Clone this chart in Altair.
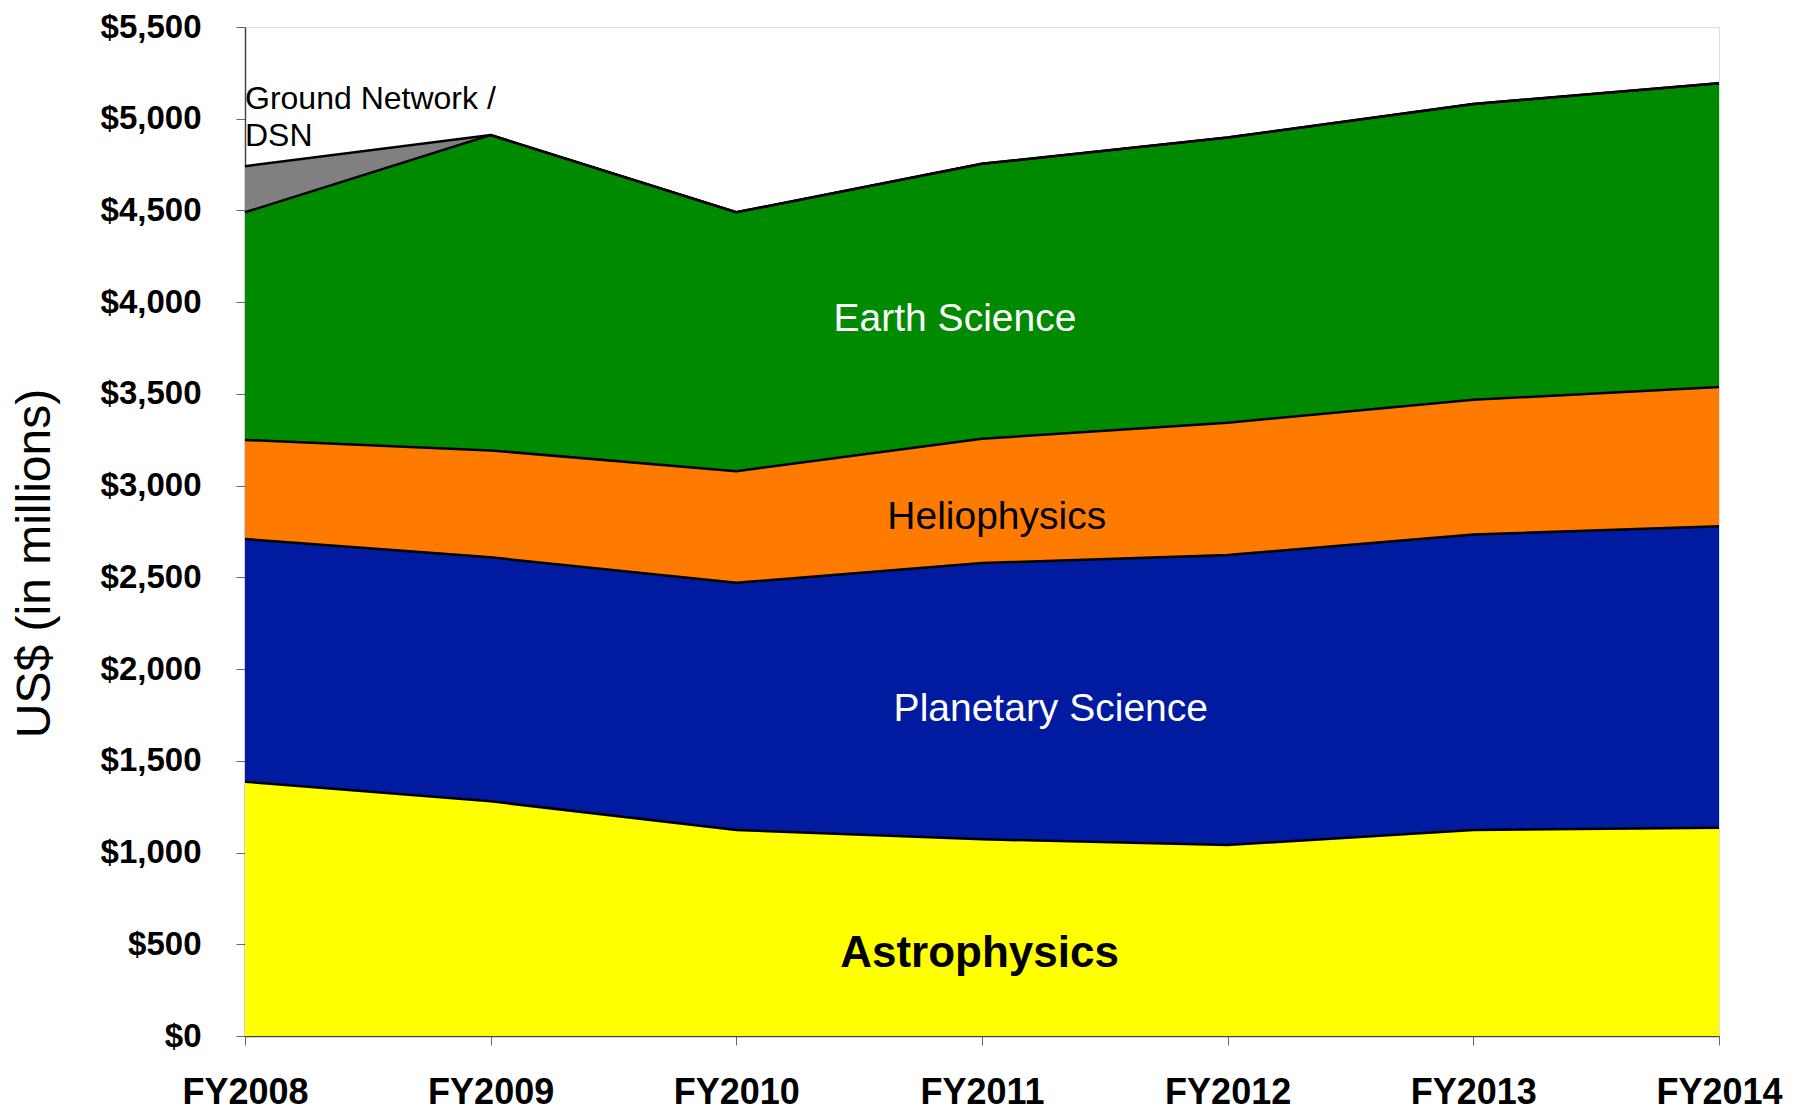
import altair as alt
import pandas as pd

years = [2008, 2009, 2010, 2011, 2012, 2013, 2014]
series = ["Astrophysics", "Planetary Science", "Heliophysics", "Earth Science", "Ground Network / DSN"]
astrophysics = [1386, 1279, 1123, 1072, 1041, 1123, 1135]
planetary = [1323, 1330, 1348, 1506, 1581, 1611, 1643]
heliophysics = [540, 583, 608, 677, 721, 734, 759]
earth = [1241, 1719, 1411, 1499, 1555, 1612, 1656]
ground = [251, 0, 0, 0, 0, 0, 0]
colors = ["#FFFF00", "#001AA0", "#FF7B00", "#008A00", "#808080"]

values = [astrophysics, planetary, heliophysics, earth, ground]
rows = []
for i, (name, vals) in enumerate(zip(series, values)):
    for y, v in zip(years, vals):
        rows.append({"year": y, "series": name, "order": i, "value": v})
df = pd.DataFrame(rows)

# label annotations
lab_text = ["Earth Science", "Heliophysics", "Planetary Science"]
lab_x = [2010.89, 2011.06, 2011.28]
lab_y = [3907, 2829, 1781]
lab_color = ["white", "black", "white"]
astro_label = {"text": "Astrophysics", "x": 2010.99, "y": 445}
ground_lines = ["Ground Network /", "DSN"]
ground_y = [5108, 4905]

FONT = "Liberation Sans"

xscale = alt.Scale(domain=[2008, 2014], nice=False, zero=False)
yscale = alt.Scale(domain=[0, 5500], nice=False)

base = alt.Chart(df).transform_window(
    cum="sum(value)",
    groupby=["year"],
    sort=[alt.SortField("order")],
    frame=[None, 0],
).transform_calculate(lower="datum.cum - datum.value")

x_enc = alt.X(
    "year:Q",
    scale=xscale,
    axis=alt.Axis(
        values=years,
        labelExpr="'FY' + datum.value",
        title=None,
        grid=False,
        labelFont=FONT,
        labelFontWeight="bold",
        labelFontSize=36,
        labelColor="black",
        labelPadding=30,
        tickSize=9,
        tickColor="#666666",
        domainColor="#444444",
        domainWidth=1.5,
        labelFlush=False,
    ),
)

y_enc = alt.Y(
    "cum:Q",
    scale=yscale,
    axis=alt.Axis(
        values=list(range(0, 5501, 500)),
        labelExpr="'$' + format(datum.value, ',')",
        title="US$ (in millions)",
        grid=False,
        labelFont=FONT,
        labelFontWeight="bold",
        labelFontSize=33,
        labelColor="black",
        labelPadding=35,
        tickSize=9,
        tickColor="#666666",
        domainColor="#444444",
        domainWidth=1.5,
        titleFont=FONT,
        titleFontSize=48,
        titleFontWeight="normal",
        titleColor="black",
        titleX=-210,
        titleY=536,
        titleAngle=-90,
        titleBaseline="middle",
        titleAlign="center",
        labelFlush=False,
    ),
)

area = base.mark_area(opacity=1, interpolate="linear").encode(
    x=x_enc,
    y=y_enc,
    y2="lower:Q",
    color=alt.Color("series:N", scale=alt.Scale(domain=series, range=colors), legend=None),
    order=alt.Order("order:Q"),
)

lines = base.mark_line(color="black", strokeWidth=2.5).encode(
    x=alt.X("year:Q", scale=xscale),
    y=alt.Y("cum:Q", scale=yscale),
    detail="series:N",
)

labels_df = pd.DataFrame({"text": lab_text, "x": lab_x, "y": lab_y, "color": lab_color})
labels = alt.Chart(labels_df).mark_text(font=FONT, fontSize=39, align="center", baseline="middle").encode(
    x=alt.X("x:Q", scale=xscale),
    y=alt.Y("y:Q", scale=yscale),
    text="text:N",
    color=alt.Color("color:N", scale=None),
)

astro_df = pd.DataFrame([astro_label])
astro = alt.Chart(astro_df).mark_text(font=FONT, fontSize=44, fontWeight="bold", color="black",
                                      align="center", baseline="middle").encode(
    x=alt.X("x:Q", scale=xscale),
    y=alt.Y("y:Q", scale=yscale),
    text="text:N",
)

ground_df = pd.DataFrame({"text": ground_lines, "x": [2008, 2008], "y": ground_y})
ground_txt = alt.Chart(ground_df).mark_text(font=FONT, fontSize=32, color="black",
                                            align="left", baseline="middle").encode(
    x=alt.X("x:Q", scale=xscale),
    y=alt.Y("y:Q", scale=yscale),
    text="text:N",
)

chart = alt.layer(area, lines, labels, astro, ground_txt).properties(
    width=1474,
    height=1009,
    autosize=alt.AutoSizeParams(type="none"),
    padding={"left": 237, "top": 19, "right": 80, "bottom": 76},
).configure_view(stroke=None).configure(background="white")

chart.save("out.html", embed_options={"renderer": "svg", "actions": False})
